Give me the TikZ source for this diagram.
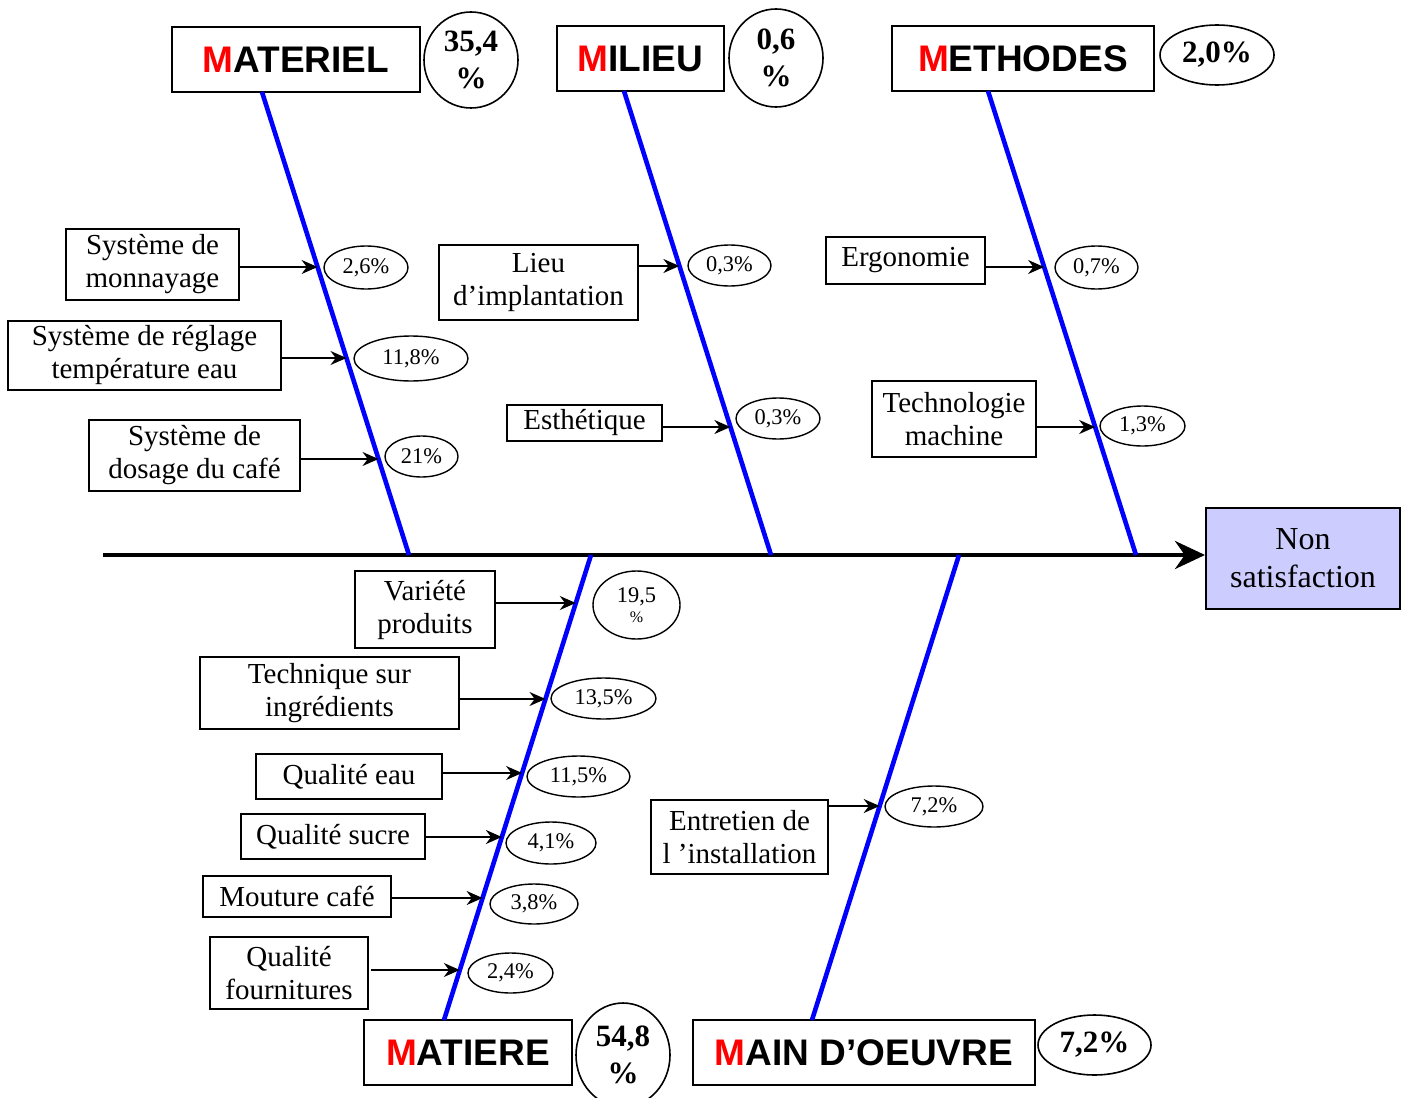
\documentclass[tikz,border=0pt]{standalone}
\usepackage{fontspec}
\setmainfont{Liberation Serif}
\newfontfamily\hdfont{Liberation Sans}
\usetikzlibrary{shapes.geometric,arrows.meta}
\definecolor{lav}{RGB}{204,204,255}
\begin{document}
\begin{tikzpicture}[x=0.5pt,y=-0.5pt,
  hbox/.style={draw, line width=0.9pt, inner sep=0pt, font=\hdfont\bfseries\fontsize{18.5}{20}\selectfont, minimum height=32.5pt},
  hell/.style={ellipse, draw, line width=0.8pt, inner sep=0pt, align=center, font=\bfseries\fontsize{15.5}{18.5}\selectfont},
  cbox/.style={draw, line width=0.7pt, inner sep=0pt, align=center, font=\fontsize{14.5}{16.5}\selectfont},
  pell/.style={ellipse, draw, line width=0.7pt, inner sep=0pt, align=center, font=\fontsize{11.2}{13}\selectfont},
  bone/.style={blue, line width=2.3pt},
  carrow/.style={-{Stealth[length=8pt,width=7pt]}, line width=0.7pt},
  spine/.style={line width=2pt, -{Stealth[length=15pt,width=14pt]}}]
\useasboundingbox (0,0) rectangle (1407,1097);
\clip (0,0) rectangle (1407,1097);

% effect
\node[draw, line width=1pt, fill=lav, inner sep=0pt, align=center, minimum width=97pt, minimum height=50.5pt,
  font=\fontsize{16}{19}\selectfont] (eff) at (1303,558.5) {Non\\satisfaction};
\coordinate (tail) at (103,555);
\draw[spine] (tail) -- (tail -| eff.west);

% category boxes
\node[hbox, minimum width=124pt] (mat) at (296,59.5) {\textcolor{red}{M}ATERIEL\hspace{8pt}};
\node[hbox, minimum width=83.5pt] (mil) at (640.5,58.5) {\textcolor{red}{M}ILIEU};
\node[hbox, minimum width=131pt] (met) at (1023,58.5) {\textcolor{red}{M}ETHODES\hspace{5pt}};
\node[hbox, minimum width=104pt] (mti) at (468,1052.5) {\textcolor{red}{M}ATIERE};
\node[hbox, minimum width=171pt] (mo) at (864,1052.5) {\textcolor{red}{M}AIN D’OEUVRE};

\node[hell, minimum width=47pt, minimum height=48pt] (pmat) at (471,60) {35,4\\\%};
\node[hell, minimum width=47pt, minimum height=49pt] (pmil) at (776,58) {0,6\\\%};
\node[hell, minimum width=57pt, minimum height=30pt] (pmet) at (1217,55) {2,0\%};
\node[hell, minimum width=47pt, minimum height=52pt] (pmti) at (623,1055) {54,8\\\%};
\node[hell, minimum width=56.5pt, minimum height=30pt] (pmo) at (1094.5,1045) {7,2\%};

% bones
\coordinate (b1t) at (262,92);   \coordinate (b1b) at (409,555);
\coordinate (b2t) at (624,91);   \coordinate (b2b) at (771,555);
\coordinate (b3t) at (988,91);   \coordinate (b3b) at (1136,555);
\coordinate (b4t) at (591,555);  \coordinate (b4b) at (444,1020);
\coordinate (b5t) at (959,555);  \coordinate (b5b) at (812,1020);
\draw[bone] (b1t) -- (b1b);
\draw[bone] (b2t) -- (b2b);
\draw[bone] (b3t) -- (b3b);
\draw[bone] (b4t) -- (b4b);
\draw[bone] (b5t) -- (b5b);

% MATERIEL causes
\node[cbox, minimum width=86.5pt, minimum height=35.5pt] (c11) at (152.5,264.5) {Système de\\monnayage};
\node[cbox, minimum width=136.5pt, minimum height=34.5pt] (c12) at (144.5,355.5) {Système de réglage\\température eau};
\node[cbox, minimum width=105.5pt, minimum height=35.5pt] (c13) at (194.5,455.5) {Système de\\dosage du café};
\coordinate (h11) at (317.6,267);
\coordinate (h12) at (346.5,358);
\coordinate (h13) at (378.5,459);
\draw[carrow] (c11.east |- h11) -- (h11);
\draw[carrow] (c12.east |- h12) -- (h12);
\draw[carrow] (c13.east |- h13) -- (h13);
\node[pell, minimum width=42pt, minimum height=21.5pt] (p11) at (366,267.5) {2,6\%};
\node[pell, minimum width=57pt, minimum height=22.5pt] (p12) at (411,358.5) {11,8\%};
\node[pell, minimum width=36.5pt, minimum height=20.5pt] (p13) at (421.5,456.5) {21\%};

% MILIEU causes
\node[cbox, minimum width=99.5pt, minimum height=37.5pt] (c21) at (538.5,282.5) {Lieu\\d’implantation};
\node[cbox, minimum width=77.5pt, minimum height=18pt] (c22) at (584.5,423) {Esthétique};
\coordinate (h21) at (679.4,266);
\coordinate (h22) at (730.4,427);
\draw[carrow] (c21.east |- h21) -- (h21);
\draw[carrow] (c22.east |- h22) -- (h22);
\node[pell, minimum width=41.5pt, minimum height=20.5pt] (p21) at (729.5,265.5) {0,3\%};
\node[pell, minimum width=42pt, minimum height=20.5pt] (p22) at (778,418.5) {0,3\%};

% METHODES causes
\node[cbox, minimum width=79.5pt, minimum height=23.5pt] (c31) at (905.5,260.5) {Ergonomie};
\node[cbox, minimum width=82pt, minimum height=38pt] (c32) at (954,419) {Technologie\\machine};
\coordinate (h31) at (1044.1,267);
\coordinate (h32) at (1095.2,427);
\draw[carrow] (c31.east |- h31) -- (h31);
\draw[carrow] (c32.east |- h32) -- (h32);
\node[pell, minimum width=41.5pt, minimum height=21.5pt] (p31) at (1096.5,267.5) {0,7\%};
\node[pell, minimum width=42.5pt, minimum height=20pt] (p32) at (1142.5,426) {1,3\%};

% MATIERE causes
\node[cbox, minimum width=70pt, minimum height=38.5pt] (c41) at (425,609.5) {Variété\\produits};
\node[cbox, minimum width=129.5pt, minimum height=36pt] (c42) at (329.5,693) {Technique sur\\ingrédients};
\node[cbox, minimum width=93pt, minimum height=22.5pt] (c43) at (349,776.5) {Qualité eau};
\node[cbox, minimum width=92pt, minimum height=22.5pt] (c44) at (333,836.5) {Qualité sucre};
\node[cbox, minimum width=94pt, minimum height=20.5pt] (c45) at (297,896.5) {Mouture café};
\node[cbox, minimum width=79pt, minimum height=36pt] (c46) at (289,973) {Qualité\\fournitures};
\coordinate (h41) at (575.8,603);
\coordinate (h42) at (545.5,699);
\coordinate (h43) at (522.1,773);
\coordinate (h44) at (501.9,837);
\coordinate (h45) at (482.6,898);
\coordinate (h46) at (459.8,970);
\draw[carrow] (c41.east |- h41) -- (h41);
\draw[carrow] (c42.east |- h42) -- (h42);
\draw[carrow] (c43.east |- h43) -- (h43);
\draw[carrow] (c44.east |- h44) -- (h44);
\draw[carrow] (c45.east |- h45) -- (h45);
\draw[carrow] ([xshift=1pt]c46.east |- h46) -- (h46);
\node[pell, minimum width=43.5pt, minimum height=34pt, font=\fontsize{11.2}{11}\selectfont] (p41) at (636.5,605) {19,5\\[-1pt]{\fontsize{8}{8}\selectfont\%}};
\node[pell, minimum width=52.5pt, minimum height=20.5pt] (p42) at (603.5,698.5) {13,5\%};
\node[pell, minimum width=51.5pt, minimum height=20.5pt] (p43) at (578.5,776.5) {11,5\%};
\node[pell, minimum width=45pt, minimum height=21pt] (p44) at (551,843) {4,1\%};
\node[pell, minimum width=44pt, minimum height=20pt] (p45) at (534,904) {3,8\%};
\node[pell, minimum width=42.5pt, minimum height=20pt] (p46) at (510.5,973) {2,4\%};

% MAIN D'OEUVRE causes
\node[cbox, minimum width=88.5pt, minimum height=37pt] (c51) at (739.5,837) {Entretien de\\l ’installation};
\coordinate (h51) at (879.7,806);
\draw[carrow] (c51.east |- h51) -- (h51);
\node[pell, minimum width=49pt, minimum height=20.5pt] (p51) at (934,806.5) {7,2\%};
\end{tikzpicture}
\end{document}
